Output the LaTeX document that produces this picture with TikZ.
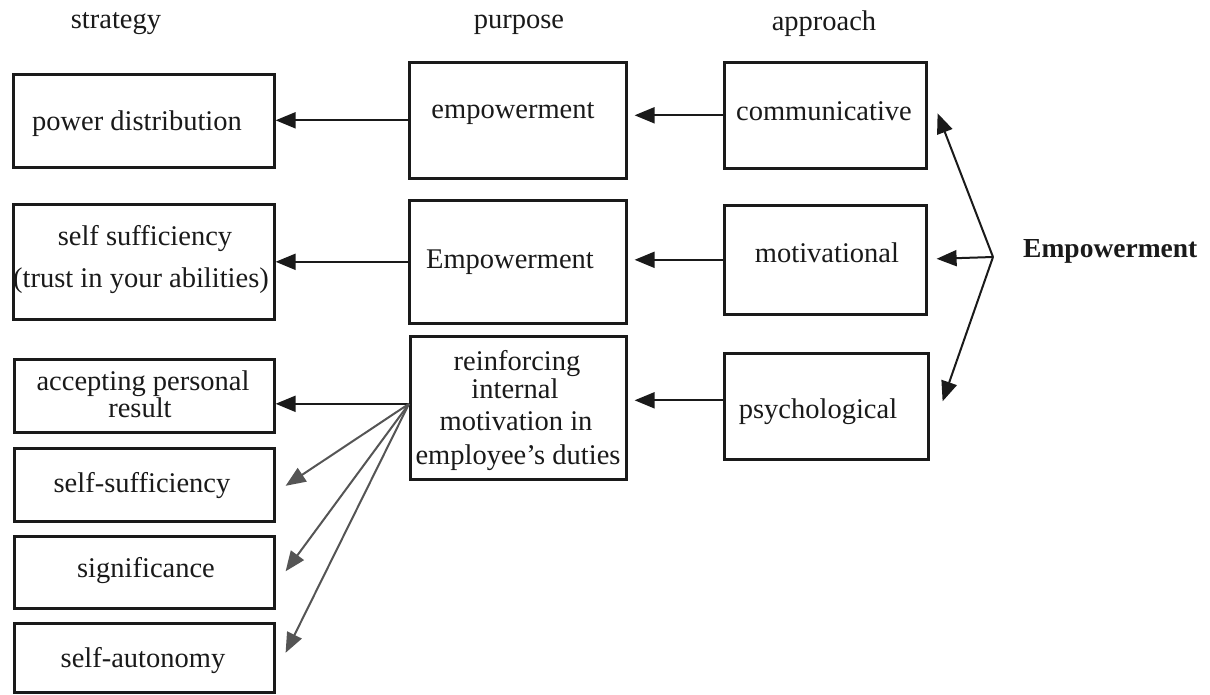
\documentclass[tikz,border=0pt]{standalone}
\usepackage{fontspec}
\setmainfont{Liberation Serif}
\usetikzlibrary{arrows.meta,calc}
\definecolor{ink}{HTML}{1A1A1A}
\definecolor{fan}{HTML}{555555}
\tikzset{
  bx/.style n args={2}{draw=ink, line width=2.6pt, inner sep=0pt, anchor=north west,
                       minimum width=#1pt, minimum height=#2pt},
  txt/.style={anchor=base, inner sep=0pt, text=ink, font=\fontsize{28.5}{31}\selectfont},
  btxt/.style={anchor=base west, inner sep=0pt, text=ink, font=\fontsize{27.5}{31}\selectfont\bfseries},
  arr/.style={draw=ink, line width=2pt, -{Triangle[length=20pt,width=16pt]}},
  garr/.style={draw=fan, line width=2pt, -{Triangle[length=20pt,width=16pt]}},
}
\begin{document}
\begin{tikzpicture}[x=1pt,y=-1pt]
\useasboundingbox[fill=white] (0,0) rectangle (1210,694);

% headers
\node[txt] (hs) at (116,28) {strategy};
\node[txt] (hp) at (519,28) {purpose};
\node[txt] (ha) at (824,30) {approach};

% strategy boxes
\node[bx={261}{93}]  (pd)  at (12,73)  {};
\node[bx={261}{115}] (ss1) at (12,203) {};
\node[bx={260}{73}]  (apr) at (13,358) {};
\node[bx={260}{73}]  (ss2) at (13,447) {};
\node[bx={260}{72}]  (sig) at (13,535) {};
\node[bx={260}{69}]  (sa)  at (13,622) {};

% purpose boxes
\node[bx={217}{116}] (emp1) at (408,61)  {};
\node[bx={217}{123}] (emp2) at (408,199) {};
\node[bx={216}{143}] (rei)  at (409,335) {};

% approach boxes
\node[bx={202}{106}] (com) at (723,61)  {};
\node[bx={202}{109}] (mot) at (723,204) {};
\node[bx={204}{106}] (psy) at (723,352) {};

% texts
\node[txt] (tpd)  at (137,130) {power distribution};
\node[txt] (tss1a) at (145,245) {self sufficiency};
\node[txt] (tss1b) at (141,287) {(trust in your abilities)};
\node[txt] (tapra) at (143,390) {accepting personal};
\node[txt] (taprb) at (140,417) {result};
\node[txt] (tss2) at (142,492) {self-sufficiency};
\node[txt] (tsig) at (146,577) {significance};
\node[txt] (tsa)  at (143,667) {self-autonomy};

\node[txt] (temp1) at (513,118) {empowerment};
\node[txt] (temp2) at (510,268) {Empowerment};
\node[txt] (trei1) at (517,370) {reinforcing};
\node[txt] (trei2) at (515,398) {internal};
\node[txt] (trei3) at (516,430) {motivation in};
\node[txt] (trei4) at (518,464) {employee’s duties};

\node[txt] (tcom) at (824,120) {communicative};
\node[txt] (tmot) at (827,262) {motivational};
\node[txt] (tpsy) at (818,418) {psychological};

\node[btxt] (E) at (1023,257) {Empowerment};

% approach -> purpose
\draw[arr, shorten >=7pt] (com.west) -- (com.west -| emp1.east);
\draw[arr, shorten >=7pt] (mot.west) -- (mot.west -| emp2.east);
\coordinate (pw) at ($(psy.west)+(0,-6)$);
\draw[arr, shorten >=7pt] (pw) -- (pw -| rei.east);

% purpose -> strategy
\draw[arr] (emp1.west) -- (emp1.west -| pd.east);
\draw[arr] (emp2.west) -- (emp2.west -| ss1.east);
\coordinate (rf) at ($(rei.west)+(0,-4)$);
\draw[arr] (rf) -- (rf -| apr.east);
\draw[garr] (rf) -- ($(ss2.east)+(10,1)$);
\draw[garr] (rf) -- ($(sig.east)+(10,-1)$);
\draw[garr] (rf) -- ($(sa.east)+(10,-5)$);

% Empowerment fan
\coordinate (ef) at ($(E.base west)+(-30,0)$);
\draw[arr] (ef) -- ($(com.east)+(10,-2)$);
\draw[arr] (ef) -- ($(mot.east)+(9,-1)$);
\draw[arr] (ef) -- ($(psy.east)+(13,-5)$);
\end{tikzpicture}
\end{document}
